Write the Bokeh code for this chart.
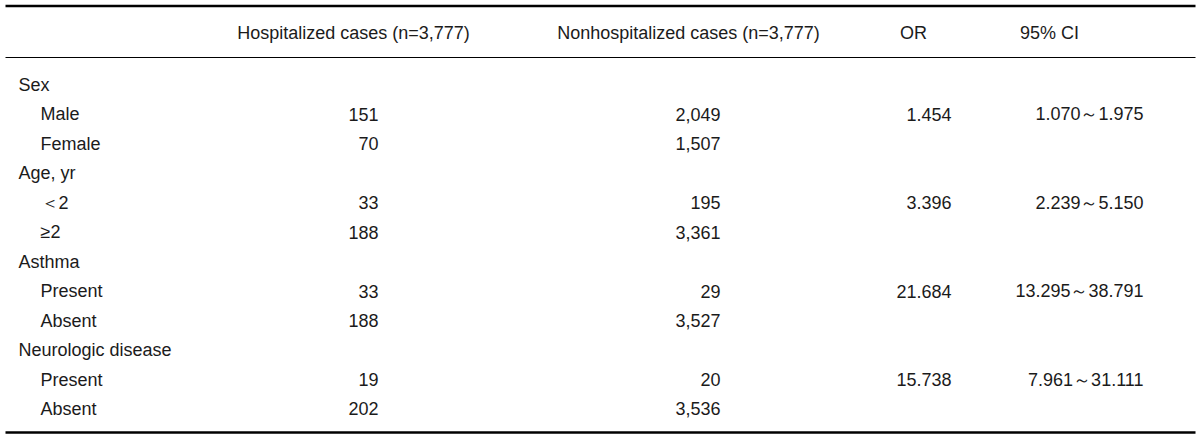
from bokeh.plotting import figure
from bokeh.models import Range1d, ColumnDataSource
from bokeh.core.properties import value
from bokeh.embed import file_html
from bokeh.resources import INLINE

# ---- data ----
headers = ["Hospitalized cases (n=3,777)", "Nonhospitalized cases (n=3,777)", "OR", "95% CI"]
groups = ["Sex", "Age, yr", "Asthma", "Neurologic disease"]
levels = [["Male", "Female"], ["＜2", "≥2"], ["Present", "Absent"], ["Present", "Absent"]]
hospitalized = ["151", "70", "33", "188", "33", "188", "19", "202"]
nonhospitalized = ["2,049", "1,507", "195", "3,361", "29", "3,527", "20", "3,536"]
odds_ratio = ["1.454", "3.396", "21.684", "15.738"]
ci_95 = ["1.070～1.975", "2.239～5.150", "13.295～38.791", "7.961～31.111"]

# ---- layout (reference pixel space) ----
W, H = 1200, 439
FONT = "Liberation Sans"
FS = "18px"
COLOR = "#1b1b1b"
row0, step = 84.5, 29.45
x_group, x_level = 18, 40
x_hosp, x_non, x_or, x_ci = 378, 720, 951, 1143
header_x = [353, 688, 913, 1049]
header_y = 32

p = figure(width=W, height=H, output_backend="svg", toolbar_location=None,
           x_range=Range1d(0, W), y_range=Range1d(H, 0),
           min_border=0, min_border_left=0, min_border_right=0,
           min_border_top=0, min_border_bottom=0)
p.axis.visible = False
p.grid.visible = False
p.outline_line_color = None
p.background_fill_color = "white"
p.border_fill_color = "white"

# rules
p.segment(x0=[5, 5, 5], y0=[5.5, 57, 432], x1=[1195, 1195, 1195], y1=[5.5, 57, 432],
          line_color="black", line_width=[2.6, 1.0, 2.6])

def txt(xs, ys, texts, align):
    src = ColumnDataSource(dict(x=xs, y=ys, t=texts))
    p.text(x="x", y="y", text="t", source=src, text_align=align, text_baseline="middle",
           text_font=value(FONT), text_font_size=FS, text_color=COLOR)

# headers
txt(header_x, [header_y] * 4, headers, "center")

# body
g_x, g_y, g_t = [], [], []
l_x, l_y, l_t = [], [], []
pair_rows = []
r = 0
for gi, g in enumerate(groups):
    g_y.append(row0 + r * step); g_t.append(g); g_x.append(x_group)
    r += 1
    pair_rows.append(row0 + r * step)
    for lv in levels[gi]:
        l_y.append(row0 + r * step); l_t.append(lv); l_x.append(x_level)
        r += 1

txt(g_x, g_y, g_t, "left")
txt(l_x, l_y, l_t, "left")
txt([x_hosp] * len(hospitalized), l_y, hospitalized, "right")
txt([x_non] * len(nonhospitalized), l_y, nonhospitalized, "right")
txt([x_or] * len(odds_ratio), pair_rows, odds_ratio, "right")
txt([x_ci] * len(ci_95), pair_rows, ci_95, "right")

open("out.html", "w").write(file_html(p, INLINE))
